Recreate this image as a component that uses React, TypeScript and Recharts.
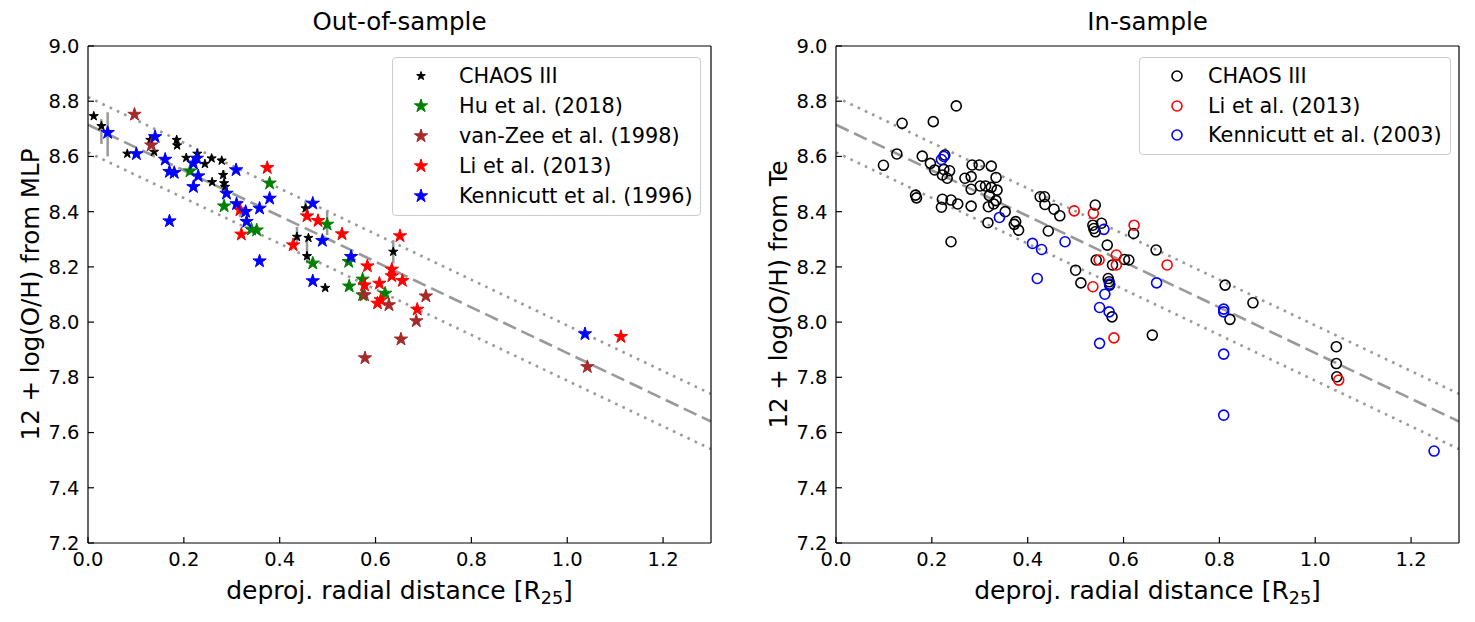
import React from 'react';
import { ScatterChart, Scatter, XAxis, YAxis, ReferenceLine, ErrorBar, Label, Legend } from 'recharts';

// ---------- ticks ----------
const X_TICKS = [0, 0.2, 0.4, 0.6, 0.8, 1.0, 1.2];
const Y_TICKS = [7.2, 7.4, 7.6, 7.8, 8.0, 8.2, 8.4, 8.6, 8.8, 9.0];
const X_DOMAIN = [0, 1.3];
const Y_DOMAIN = [7.2, 9.0];

// ---------- fit lines (endpoints) ----------
const FIT_MAIN = [[0, 8.715], [1.3, 7.64]];
const FIT_UPPER = [[0, 8.815], [1.3, 7.74]];
const FIT_LOWER = [[0, 8.615], [1.3, 7.54]];

// ---------- Out-of-sample ----------
const OOS_CHAOS = [
  [0.012, 8.746], [0.028, 8.71], [0.082, 8.61], [0.13, 8.66], [0.138, 8.617], [0.185, 8.66],
  [0.186, 8.64], [0.205, 8.595], [0.228, 8.61], [0.244, 8.573], [0.258, 8.593], [0.279, 8.585],
  [0.282, 8.533], [0.284, 8.503], [0.286, 8.49], [0.259, 8.507], [0.436, 8.309], [0.46, 8.305],
  [0.454, 8.412], [0.457, 8.239], [0.495, 8.124], [0.637, 8.255],
];
const OOS_HU = [
  [0.213, 8.547], [0.284, 8.42], [0.379, 8.503], [0.352, 8.333], [0.341, 8.336], [0.499, 8.354],
  [0.469, 8.213], [0.545, 8.13], [0.573, 8.155], [0.62, 8.104], [0.544, 8.219], [0.573, 8.098],
];
const OOS_VANZEE = [
  [0.097, 8.752], [0.132, 8.641], [0.705, 8.094], [0.685, 8.004], [0.628, 8.062], [0.577, 8.098],
  [0.653, 7.938], [0.578, 7.87], [1.042, 7.838],
];
const OOS_LI = [
  [0.374, 8.559], [0.32, 8.318], [0.317, 8.406], [0.457, 8.384], [0.428, 8.279], [0.48, 8.367],
  [0.53, 8.319], [0.583, 8.203], [0.634, 8.191], [0.634, 8.167], [0.656, 8.15], [0.651, 8.312],
  [0.608, 8.14], [0.577, 8.134], [0.604, 8.068], [0.611, 8.08], [0.687, 8.046], [1.112, 7.947],
];
const OOS_KENN = [
  [0.041, 8.686], [0.101, 8.609], [0.14, 8.671], [0.161, 8.589], [0.17, 8.545], [0.18, 8.541],
  [0.227, 8.593], [0.22, 8.575], [0.23, 8.529], [0.22, 8.49], [0.17, 8.366], [0.289, 8.466],
  [0.309, 8.551], [0.31, 8.428], [0.329, 8.4], [0.331, 8.364], [0.358, 8.412], [0.379, 8.448],
  [0.469, 8.43], [0.489, 8.295], [0.549, 8.237], [0.469, 8.149], [0.358, 8.221], [1.037, 7.957],
];
// [x, y, half-length of vertical uncertainty bar]
const OOS_ERRORS = [
  [0.041, 8.68, 0.08], [0.028, 8.69, 0.045], [0.284, 8.515, 0.035], [0.185, 8.652, 0.018],
  [0.436, 8.315, 0.03], [0.454, 8.418, 0.018], [0.457, 8.255, 0.042], [0.499, 8.357, 0.042],
  [0.637, 8.255, 0.042], [0.318, 8.41, 0.03],
];

// ---------- In-sample ----------
const IS_CHAOS = [
  [0.251, 8.783], [0.138, 8.72], [0.203, 8.726], [0.127, 8.609], [0.099, 8.568], [0.18, 8.601],
  [0.197, 8.575], [0.227, 8.605], [0.206, 8.551], [0.225, 8.553], [0.237, 8.548], [0.222, 8.533],
  [0.232, 8.521], [0.166, 8.46], [0.168, 8.45], [0.222, 8.445], [0.22, 8.416], [0.24, 8.442],
  [0.254, 8.428], [0.24, 8.291], [0.269, 8.521], [0.282, 8.527], [0.284, 8.569], [0.299, 8.569],
  [0.324, 8.565], [0.334, 8.524], [0.282, 8.481], [0.301, 8.493], [0.312, 8.493], [0.324, 8.488],
  [0.336, 8.478], [0.32, 8.458], [0.334, 8.44], [0.329, 8.428], [0.318, 8.418], [0.282, 8.42],
  [0.317, 8.36], [0.353, 8.4], [0.375, 8.364], [0.372, 8.354], [0.381, 8.333], [0.426, 8.454],
  [0.435, 8.454], [0.436, 8.426], [0.455, 8.409], [0.467, 8.385], [0.443, 8.33], [0.541, 8.424],
  [0.536, 8.351], [0.538, 8.339], [0.541, 8.327], [0.554, 8.358], [0.566, 8.279], [0.543, 8.225],
  [0.577, 8.207], [0.602, 8.227], [0.611, 8.225], [0.5, 8.188], [0.511, 8.142], [0.568, 8.158],
  [0.57, 8.146], [0.571, 8.134], [0.576, 8.019], [0.621, 8.321], [0.668, 8.261], [0.66, 7.953],
  [0.812, 8.134], [0.822, 8.01], [0.87, 8.07], [1.044, 7.911], [1.044, 7.85], [1.045, 7.802],
];
const IS_LI = [
  [0.497, 8.403], [0.537, 8.394], [0.622, 8.351], [0.585, 8.243], [0.549, 8.225], [0.585, 8.207],
  [0.691, 8.207], [0.536, 8.128], [0.58, 7.943], [1.049, 7.79],
];
const IS_KENN = [
  [0.225, 8.6], [0.22, 8.589], [0.341, 8.379], [0.41, 8.285], [0.429, 8.263], [0.42, 8.158],
  [0.478, 8.291], [0.559, 8.336], [0.669, 8.142], [0.571, 8.138], [0.561, 8.101], [0.55, 8.053],
  [0.57, 8.037], [0.55, 7.923], [0.809, 8.047], [0.809, 8.037], [0.809, 7.884], [0.809, 7.663],
  [1.248, 7.533],
];

// ---------- helpers ----------
const FONT = 'DejaVu Sans';
const pts = (a) => a.map(([x, y]) => ({ x, y }));
const errPts = (a) => a.map(([x, y, e]) => ({ x, y, e }));

function StarMark({ cx, cy, r, color }) {
  if (cx == null || cy == null) return <g />;
  const p = [];
  for (let i = 0; i < 10; i++) {
    const rad = i % 2 === 0 ? r : r * 0.382;
    const a = -Math.PI / 2 + (i * Math.PI) / 5;
    p.push(`${cx + rad * Math.cos(a)},${cy + rad * Math.sin(a)}`);
  }
  return <polygon points={p.join(' ')} fill={color} stroke={color} strokeWidth={1} strokeLinejoin="miter" />;
}
const starShape = (color, r) => (props) => <StarMark cx={props.cx} cy={props.cy} r={r} color={color} />;
const circleShape = (color) => (props) =>
  props.cx == null ? <g /> : <circle cx={props.cx} cy={props.cy} r={5} fill="none" stroke={color} strokeWidth={1.6} />;

const CHART_W = 740;
const CHART_H = 622;
const MARGIN = { top: 45, right: 28, bottom: 29, left: 0 };

const XLabel = ({ viewBox }) => {
  if (!viewBox) return null;
  const cx = viewBox.x + viewBox.width / 2;
  return (
    <text x={cx} y={viewBox.y + 56} textAnchor="middle" fontSize={25} fontFamily={FONT} fill="#000">
      deproj. radial distance [R<tspan dy={5} fontSize={17.5}>25</tspan><tspan dy={-5}>]</tspan>
    </text>
  );
};

const makeYLabel = (txt) => ({ viewBox }) => {
  if (!viewBox) return null;
  const cy = viewBox.y + viewBox.height / 2;
  return (
    <text transform={`translate(39, ${cy}) rotate(-90)`} textAnchor="middle" fontSize={24.5} fontFamily={FONT} fill="#000">
      {txt}
    </text>
  );
};

function LegendMarker({ kind, color, small }) {
  return (
    <svg width={20} height={20} style={{ position: 'absolute', left: -10, top: -10 }}>
      {kind === 'star' ? (
        <StarMark cx={10} cy={10} r={small ? 4.5 : 7} color={color} />
      ) : (
        <circle cx={10} cy={10} r={5} fill="none" stroke={color} strokeWidth={1.6} />
      )}
    </svg>
  );
}

function LegendBox({ box, items }) {
  return (
    <div
      style={{
        position: 'relative', width: box.w, height: box.h, boxSizing: 'border-box',
        border: '1px solid #cccccc', borderRadius: 4, background: 'rgba(255,255,255,0.8)',
        fontFamily: FONT, fontSize: 20.8, color: '#000',
      }}
    >
      {items.map((it, i) => (
        <div key={it.label} style={{ position: 'absolute', left: 0, top: box.row0 + i * box.step, width: '100%' }}>
          <div style={{ position: 'absolute', left: box.mx, top: 0 }}>
            <LegendMarker kind={it.kind} color={it.color} small={it.small} />
          </div>
          <div style={{ position: 'absolute', left: box.tx, top: -12, lineHeight: '24px', whiteSpace: 'nowrap' }}>
            {it.label}
          </div>
        </div>
      ))}
    </div>
  );
}

const tickStyle = { fill: '#000', fontSize: 19.5, fontFamily: FONT };
const axisLine = { stroke: '#000', strokeWidth: 1.2 };
const tickLine = { stroke: '#000', strokeWidth: 1.2 };

function Panel({ left, title, yLabel, series, errors, legendItems, legendBox }) {
  return (
    <div style={{ position: 'absolute', left, top: 0, width: CHART_W, height: CHART_H }}>
      <div
        style={{
          position: 'absolute', left: 88, width: 623, top: 7, textAlign: 'center',
          fontFamily: FONT, fontSize: 24.5, color: '#000', lineHeight: '30px',
        }}
      >
        {title}
      </div>
      <ScatterChart width={CHART_W} height={CHART_H} margin={MARGIN}>
        <XAxis
          xAxisId="b" type="number" dataKey="x" orientation="bottom" domain={X_DOMAIN} ticks={X_TICKS}
          allowDataOverflow height={50} tick={tickStyle} tickSize={-6} tickMargin={15}
          tickFormatter={(v) => v.toFixed(1)} axisLine={axisLine} tickLine={tickLine} interval={0}
        >
          <Label content={XLabel} />
        </XAxis>
        <XAxis
          xAxisId="t" type="number" orientation="top" domain={X_DOMAIN} ticks={X_TICKS} allowDataOverflow
          height={1} tick={false} tickSize={-6} axisLine={axisLine} tickLine={tickLine} interval={0}
        />
        <YAxis
          yAxisId="l" type="number" dataKey="y" orientation="left" domain={Y_DOMAIN} ticks={Y_TICKS}
          allowDataOverflow width={88} tick={tickStyle} tickSize={-6} tickMargin={14.5}
          tickFormatter={(v) => v.toFixed(1)} axisLine={axisLine} tickLine={tickLine} interval={0}
        >
          <Label content={makeYLabel(yLabel)} />
        </YAxis>
        <YAxis
          yAxisId="r" type="number" orientation="right" domain={Y_DOMAIN} ticks={Y_TICKS} allowDataOverflow
          width={1} tick={false} tickSize={-6} axisLine={axisLine} tickLine={tickLine} interval={0}
        />
        <ReferenceLine
          xAxisId="b" yAxisId="l" ifOverflow="hidden"
          segment={pts(FIT_UPPER)} stroke="#999999" strokeWidth={2.6} strokeDasharray="2.6 5.4"
        />
        <ReferenceLine
          xAxisId="b" yAxisId="l" ifOverflow="hidden"
          segment={pts(FIT_LOWER)} stroke="#999999" strokeWidth={2.6} strokeDasharray="2.6 5.4"
        />
        <ReferenceLine
          xAxisId="b" yAxisId="l" ifOverflow="hidden"
          segment={pts(FIT_MAIN)} stroke="#999999" strokeWidth={2.6} strokeDasharray="14 6"
        />
        {errors && (
          <Scatter xAxisId="b" yAxisId="l" data={errPts(errors)} shape={() => <g />} isAnimationActive={false}>
            <ErrorBar dataKey="e" direction="y" width={0} stroke="#999999" strokeWidth={2.5} />
          </Scatter>
        )}
        {series.map((s) => (
          <Scatter
            key={s.name} name={s.name} xAxisId="b" yAxisId="l" data={pts(s.data)}
            shape={s.kind === 'star' ? starShape(s.color, s.small ? 4.8 : 7) : circleShape(s.color)}
            isAnimationActive={false}
          />
        ))}
        <Legend
          layout="vertical" verticalAlign="middle" align="center"
          wrapperStyle={{ left: legendBox.x, top: legendBox.y, width: legendBox.w, height: legendBox.h }}
          content={() => <LegendBox box={legendBox} items={legendItems} />}
        />
      </ScatterChart>
    </div>
  );
}

const LEFT_SERIES = [
  { name: 'CHAOS III', data: OOS_CHAOS, color: '#000000', kind: 'star', small: true },
  { name: 'Hu et al. (2018)', data: OOS_HU, color: '#008000', kind: 'star' },
  { name: 'van-Zee et al. (1998)', data: OOS_VANZEE, color: '#a52a2a', kind: 'star' },
  { name: 'Li et al. (2013)', data: OOS_LI, color: '#ff0000', kind: 'star' },
  { name: 'Kennicutt et al. (1996)', data: OOS_KENN, color: '#0000ff', kind: 'star' },
];
const RIGHT_SERIES = [
  { name: 'CHAOS III', data: IS_CHAOS, color: '#000000', kind: 'circle' },
  { name: 'Li et al. (2013)', data: IS_LI, color: '#ff0000', kind: 'circle' },
  { name: 'Kennicutt et al. (2003)', data: IS_KENN, color: '#0000ff', kind: 'circle' },
];

export default function App() {
  return (
    <div style={{ position: 'absolute', left: 0, top: 0, width: 1475, height: 622, background: '#fff' }}>
      <Panel
        left={0}
        title="Out-of-sample"
        yLabel="12 + log(O/H) from MLP"
        series={LEFT_SERIES}
        errors={OOS_ERRORS}
        legendItems={LEFT_SERIES.map((s) => ({ label: s.name, color: s.color, kind: s.kind, small: s.small }))}
        legendBox={{ x: 392, y: 57, w: 309, h: 159, row0: 18, step: 30, mx: 28, tx: 66 }}
      />
      <Panel
        left={748}
        title="In-sample"
        yLabel="12 + log(O/H) from Te"
        series={RIGHT_SERIES}
        errors={null}
        legendItems={RIGHT_SERIES.map((s) => ({ label: s.name, color: s.color, kind: s.kind }))}
        legendBox={{ x: 391, y: 57, w: 312, h: 98, row0: 18, step: 29.5, mx: 37, tx: 68 }}
      />
    </div>
  );
}
